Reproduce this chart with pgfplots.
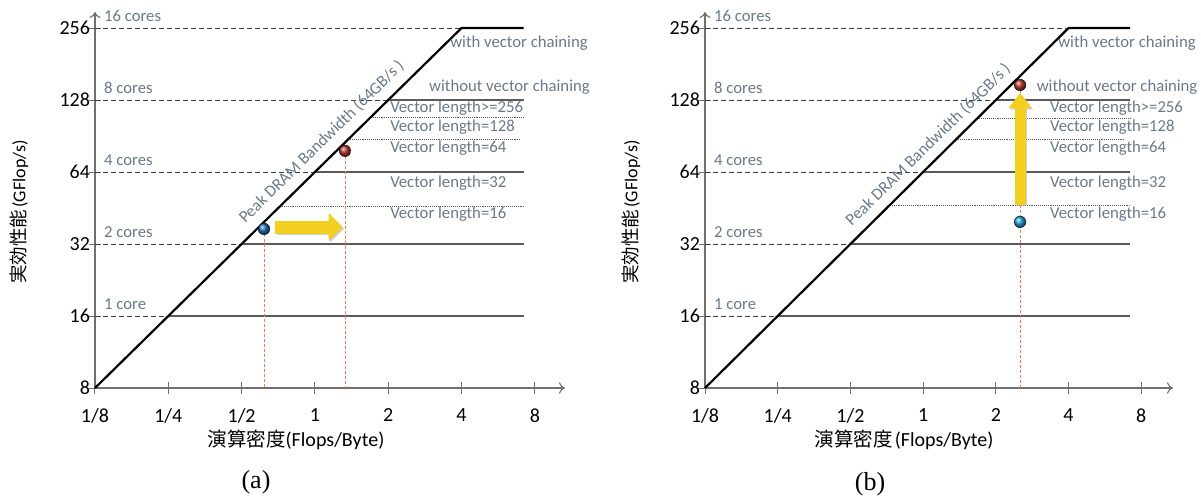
\documentclass[border=0pt]{standalone}
\usepackage{pgfplots}
\pgfplotsset{compat=1.18}
\usepackage{fontspec}
\setmainfont{Carlito}
\newfontfamily\cjk{Noto Sans CJK JP}
\newfontfamily\capfont{Liberation Serif}
\usetikzlibrary{arrows.meta}
\definecolor{txtgray}{HTML}{6B7888}
\definecolor{axgray}{HTML}{707070}
\definecolor{dashgray}{HTML}{3A3A3A}
\definecolor{linegray}{HTML}{5A5A5A}
\definecolor{redline}{HTML}{F07A55}
\definecolor{arrowyellow}{HTML}{F3D020}
\definecolor{ballblue}{HTML}{1E6CB5}
\definecolor{ballcyan}{HTML}{19A3DA}
\definecolor{ballred}{HTML}{B3362E}

\tikzset{
  lbl/.style={text=txtgray, font=\fontsize{16.7}{17}\selectfont, inner sep=0pt},
}

\begin{document}
\begin{tikzpicture}
\useasboundingbox (0pt,0pt) rectangle (1201pt,-500pt);

% ---------------- (a) ----------------
\begin{axis}[scale only axis, height=376pt, width=470pt,
    at={(95pt,-388pt)}, anchor=south west,
    xmode=log, ymode=log, log basis x=2, log basis y=2,
    xmin=0.125, xmax=10.64, ymin=8, ymax=298.7,
    axis lines=left,
    axis line style={axgray, line width=1.1pt, -{To[length=6pt,width=11pt]}},
    xtick={0.125,0.25,0.5,1,2,4,8},
    xticklabels={1/8,1/4,1/2,1,2,4,8},
    ytick={8,16,32,64,128,256},
    yticklabels={8,16,32,64,128,256},
    tick align=center, major tick length=13pt,
    tick style={axgray, line width=1pt},
    ticklabel style={font=\fontsize{20}{20}\selectfont, text=black},
    xticklabel style={yshift=-11pt},
    yticklabel style={xshift=5pt},
    clip=false]
\addplot[dashgray, line width=1pt, dash pattern=on 5pt off 3pt] coordinates {(0.125,256) (4,256)};
\addplot[dashgray, line width=1pt, dash pattern=on 5pt off 3pt] coordinates {(0.125,128) (2,128)};
\addplot[dashgray, line width=1pt, dash pattern=on 5pt off 3pt] coordinates {(0.125,64) (1,64)};
\addplot[dashgray, line width=1pt, dash pattern=on 5pt off 3pt] coordinates {(0.125,32) (0.5,32)};
\addplot[dashgray, line width=1pt, dash pattern=on 5pt off 3pt] coordinates {(0.125,16) (0.25,16)};
\addplot[linegray, line width=1.2pt] coordinates {(2,128) (7.2,128)};
\addplot[linegray, line width=1.2pt] coordinates {(1,64) (7.2,64)};
\addplot[linegray, line width=1.2pt] coordinates {(0.5,32) (7.2,32)};
\addplot[linegray, line width=1.2pt] coordinates {(0.25,16) (7.2,16)};
\addplot[linegray, line width=0.9pt, densely dotted] coordinates {(1.70,108.7) (7.2,108.7)};
\addplot[linegray, line width=0.9pt, densely dotted] coordinates {(1.37,87.7) (7.0,87.7)};
\addplot[linegray, line width=0.9pt, densely dotted] coordinates {(0.72,46.1) (7.2,46.1)};
\addplot[redline, line width=1pt, dash pattern=on 3pt off 2pt] coordinates {(0.618,37) (0.618,8)};
\addplot[redline, line width=1pt, dash pattern=on 3pt off 2pt] coordinates {(1.33,78.5) (1.33,8)};
\addplot[black, line width=2.2pt] coordinates {(0.125,8) (4,256) (7.2,256)};
\node[lbl, rotate=44.5, xshift=-4.5pt, yshift=4.5pt] at (axis cs:1.13,85.4) {Peak DRAM Bandwidth (64GB/s )};
\draw[gray!60, opacity=0.6, line width=13pt, -{Triangle[length=14pt,width=27pt]}, shift={(1.5pt,-1.5pt)}]
  (axis cs:0.686,37.7) -- (axis cs:1.30,37.7);
\draw[arrowyellow, line width=13pt, -{Triangle[length=14pt,width=27pt]}]
  (axis cs:0.686,37.7) -- (axis cs:1.30,37.7);
\addplot[only marks, mark=ball, mark size=5.8pt, mark options={ball color=ballblue}] coordinates {(0.618,37)};
\addplot[only marks, mark=ball, mark size=5.8pt, mark options={ball color=ballred}] coordinates {(1.33,78.5)};
\node[lbl, anchor=south west, xshift=9pt, yshift=6pt] at (axis cs:0.125,256) {16 cores};
\node[lbl, anchor=south west, xshift=9pt, yshift=6pt] at (axis cs:0.125,128) {8 cores};
\node[lbl, anchor=south west, xshift=9pt, yshift=6pt] at (axis cs:0.125,64) {4 cores};
\node[lbl, anchor=south west, xshift=9pt, yshift=6pt] at (axis cs:0.125,32) {2 cores};
\node[lbl, anchor=south west, xshift=9pt, yshift=6pt] at (axis cs:0.125,16) {1 core};
\node[lbl, anchor=base west] at (axis cs:3.59,213.2) {with vector chaining};
\node[lbl, anchor=base west] at (axis cs:2.94,139.6) {without vector chaining};
\node[lbl, anchor=base west] at (axis cs:2.035,114.0) {Vector length>=256};
\node[lbl, anchor=base west] at (axis cs:2.035,94.9) {Vector length=128};
\node[lbl, anchor=base west] at (axis cs:2.035,77.6) {Vector length=64};
\node[lbl, anchor=base west] at (axis cs:2.035,55.4) {Vector length=32};
\node[lbl, anchor=base west] at (axis cs:2.035,41.1) {Vector length=16};
\end{axis}

% ---------------- (b) ----------------
\begin{axis}[scale only axis, height=376pt, width=468pt,
    at={(705pt,-388pt)}, anchor=south west,
    xmode=log, ymode=log, log basis x=2, log basis y=2,
    xmin=0.125, xmax=10.83, ymin=8, ymax=298.7,
    axis lines=left,
    axis line style={axgray, line width=1.1pt, -{To[length=6pt,width=11pt]}},
    xtick={0.125,0.25,0.5,1,2,4,8},
    xticklabels={1/8,1/4,1/2,1,2,4,8},
    ytick={8,16,32,64,128,256},
    yticklabels={8,16,32,64,128,256},
    tick align=center, major tick length=13pt,
    tick style={axgray, line width=1pt},
    ticklabel style={font=\fontsize{20}{20}\selectfont, text=black},
    xticklabel style={yshift=-11pt},
    yticklabel style={xshift=5pt},
    clip=false]
\addplot[dashgray, line width=1pt, dash pattern=on 5pt off 3pt] coordinates {(0.125,256) (4,256)};
\addplot[dashgray, line width=1pt, dash pattern=on 5pt off 3pt] coordinates {(0.125,128) (2,128)};
\addplot[dashgray, line width=1pt, dash pattern=on 5pt off 3pt] coordinates {(0.125,64) (1,64)};
\addplot[dashgray, line width=1pt, dash pattern=on 5pt off 3pt] coordinates {(0.125,32) (0.5,32)};
\addplot[dashgray, line width=1pt, dash pattern=on 5pt off 3pt] coordinates {(0.125,16) (0.25,16)};
\addplot[linegray, line width=1.2pt] coordinates {(2,128) (7.2,128)};
\addplot[linegray, line width=1.2pt] coordinates {(1,64) (7.2,64)};
\addplot[linegray, line width=1.2pt] coordinates {(0.5,32) (7.2,32)};
\addplot[linegray, line width=1.2pt] coordinates {(0.25,16) (7.2,16)};
\addplot[linegray, line width=0.9pt, densely dotted] coordinates {(1.68,107.6) (7.2,107.6)};
\addplot[linegray, line width=0.9pt, densely dotted] coordinates {(1.37,87.9) (6.86,87.9)};
\addplot[linegray, line width=0.9pt, densely dotted] coordinates {(0.729,46.4) (7.2,46.4)};
\addplot[redline, line width=1pt, dash pattern=on 3pt off 2pt] coordinates {(2.52,147.9) (2.52,8)};
\addplot[black, line width=2.2pt] coordinates {(0.125,8) (4,256) (7.2,256)};
\node[lbl, rotate=44.5, xshift=-4.5pt, yshift=4.5pt] at (axis cs:1.115,83) {Peak DRAM Bandwidth (64GB/s )};
\draw[gray!60, opacity=0.6, line width=11pt, -{Triangle[length=15pt,width=22pt]}, shift={(1.5pt,-1.5pt)}]
  (axis cs:2.52,46.6) -- (axis cs:2.52,136.9);
\draw[arrowyellow, line width=11pt, -{Triangle[length=15pt,width=22pt]}]
  (axis cs:2.52,46.6) -- (axis cs:2.52,136.9);
\addplot[only marks, mark=ball, mark size=5.8pt, mark options={ball color=ballcyan}] coordinates {(2.52,39.6)};
\addplot[only marks, mark=ball, mark size=5.8pt, mark options={ball color=ballred}] coordinates {(2.52,147.9)};
\node[lbl, anchor=south west, xshift=9pt, yshift=6pt] at (axis cs:0.125,256) {16 cores};
\node[lbl, anchor=south west, xshift=9pt, yshift=6pt] at (axis cs:0.125,128) {8 cores};
\node[lbl, anchor=south west, xshift=9pt, yshift=6pt] at (axis cs:0.125,64) {4 cores};
\node[lbl, anchor=south west, xshift=9pt, yshift=6pt] at (axis cs:0.125,32) {2 cores};
\node[lbl, anchor=south west, xshift=9pt, yshift=6pt] at (axis cs:0.125,16) {1 core};
\node[lbl, anchor=base west] at (axis cs:3.62,213.2) {with vector chaining};
\node[lbl, anchor=base west] at (axis cs:2.95,139.6) {without vector chaining};
\node[lbl, anchor=base west] at (axis cs:3.35,114.0) {Vector length>=256};
\node[lbl, anchor=base west] at (axis cs:3.35,94.9) {Vector length=128};
\node[lbl, anchor=base west] at (axis cs:3.35,77.6) {Vector length=64};
\node[lbl, anchor=base west] at (axis cs:3.35,55.4) {Vector length=32};
\node[lbl, anchor=base west] at (axis cs:3.35,41.1) {Vector length=16};
\end{axis}

% axis titles and captions
\node[rotate=90, inner sep=0pt] at (19pt,-212pt) {{\fontsize{18.5}{19}\selectfont\cjk 実効性能} {\fontsize{18}{19}\selectfont(GFlop/s)}};
\node[rotate=90, inner sep=0pt] at (631pt,-212pt) {{\fontsize{18.5}{19}\selectfont\cjk 実効性能} {\fontsize{18}{19}\selectfont(GFlop/s)}};
\node[inner sep=0pt] at (296pt,-440pt) {{\fontsize{19.5}{20}\selectfont\cjk 演算密度}{\fontsize{20}{20}\selectfont(Flops/Byte)}};
\node[inner sep=0pt] at (904pt,-440pt) {{\fontsize{19.5}{20}\selectfont\cjk 演算密度} {\fontsize{20}{20}\selectfont(Flops/Byte)}};
\node[inner sep=0pt] at (256pt,-482pt) {\capfont\fontsize{26}{26}\selectfont (a)};
\node[inner sep=0pt] at (870pt,-484pt) {\capfont\fontsize{26}{26}\selectfont (b)};
\end{tikzpicture}
\end{document}
